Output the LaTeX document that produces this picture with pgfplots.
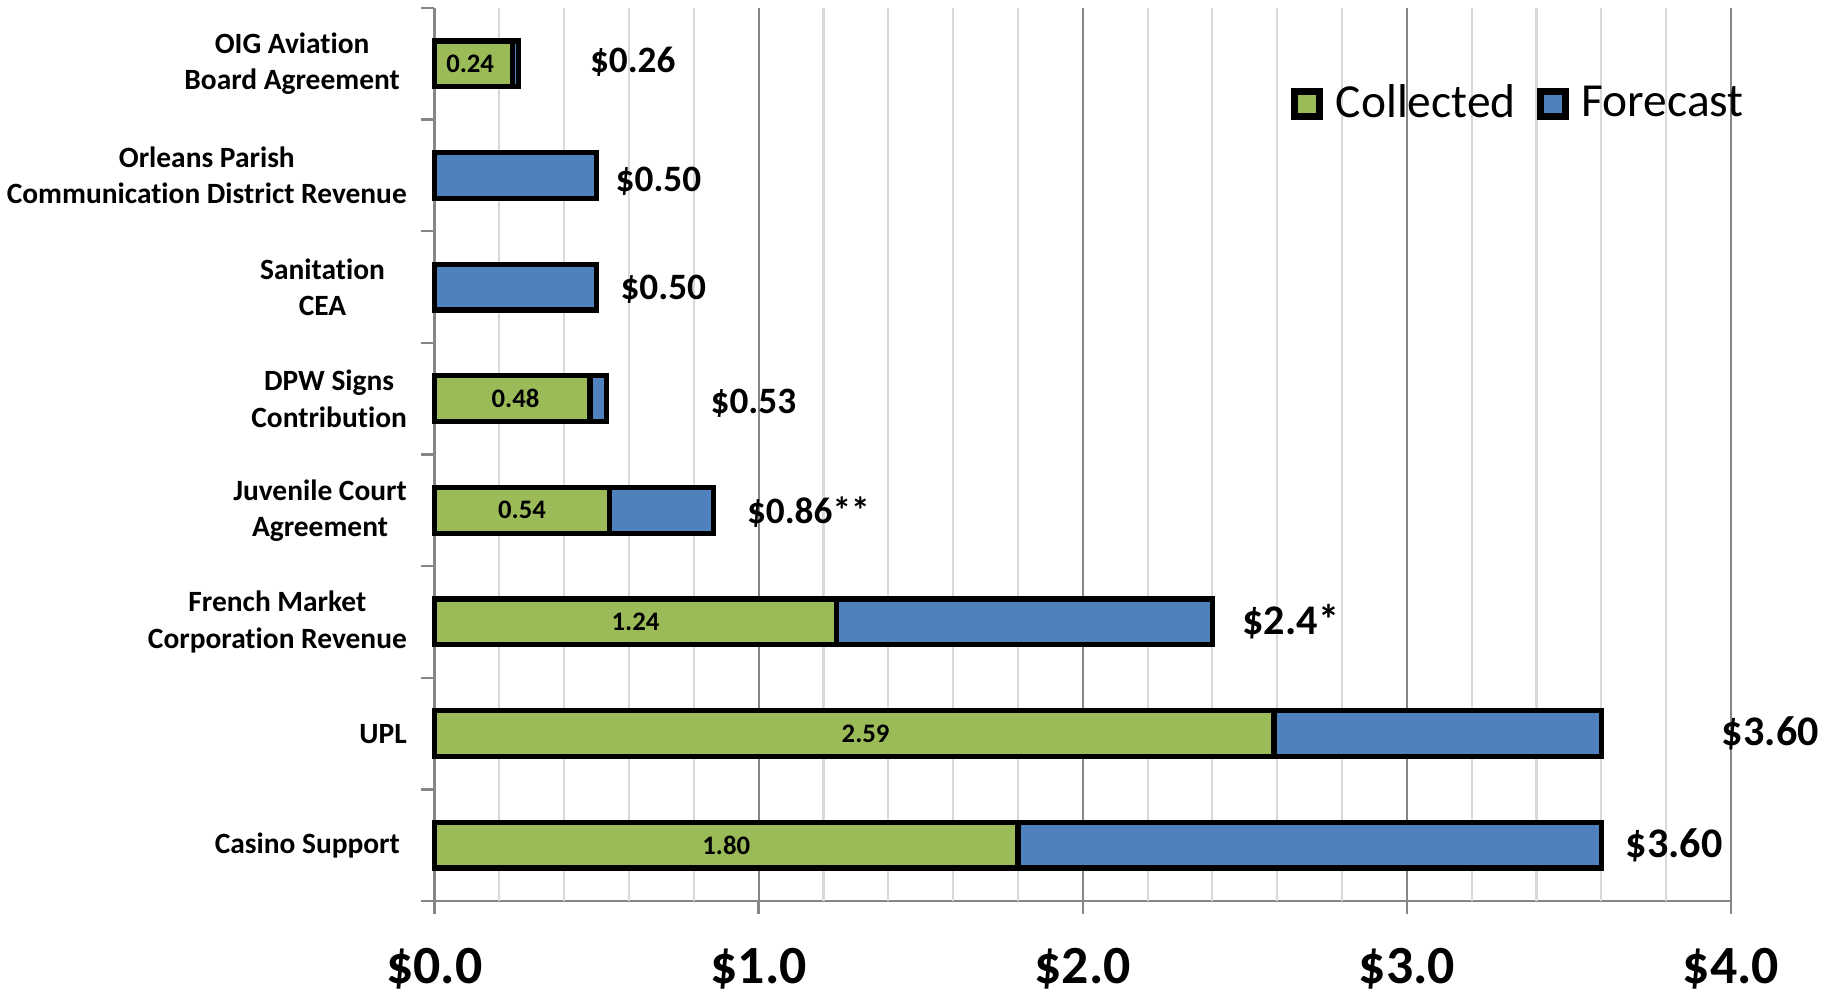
\documentclass[border=0pt]{standalone}
\usepackage{pgfplots}
\pgfplotsset{compat=1.18}
\usepackage{fontspec}
\setmainfont{Carlito}[Ligatures=NoCommon]
\definecolor{cgreen}{HTML}{9BBB59}
\definecolor{cblue}{HTML}{4F81BD}
\definecolor{majgrid}{HTML}{868686}
\definecolor{mingrid}{HTML}{D9D9D9}
\begin{document}
\begin{tikzpicture}
\path[use as bounding box] (-4.345,-0.92) rectangle (14.025,9.01);
\begin{axis}[
  at={(0,0)}, anchor=south west,
  scale only axis, width=12.965cm, height=8.93cm,
  xmin=0, xmax=4, ymin=-0.5, ymax=7.5,
  xbar stacked, bar width=0.41,
  clip=false,
  axis lines*=left,
  axis line style={majgrid, line width=0.7pt},
  xtick pos=bottom, ytick pos=left,
  tick align=outside,
  tick style={majgrid, line width=0.7pt},
  major tick length=0.13cm,
  xtick={0,1,2,3,4},
  xticklabels={\$0.0,\$1.0,\$2.0,\$3.0,\$4.0},
  xticklabel style={font=\fontsize{15.3}{18}\selectfont\bfseries, inner sep=0pt, anchor=north, yshift=-0.34cm},
  xmajorgrids, major grid style={majgrid, line width=0.6pt},
  extra x ticks={0.2,0.4,0.6,0.8,1.2,1.4,1.6,1.8,2.2,2.4,2.6,2.8,3.2,3.4,3.6,3.8},
  extra x tick labels={},
  extra x tick style={grid=major, major grid style={mingrid, line width=0.6pt}, tick style={draw=none}},
  ytick={-0.5,0.5,...,7.5},
  yticklabels={},
  extra y ticks={0,1,2,3,4,5,6,7},
  extra y tick labels={
    {Casino Support\kern0.07cm},
    {UPL},
    {French Market\\Corporation Revenue},
    {Juvenile Court\\Agreement},
    {DPW Signs\\Contribution},
    {Sanitation\kern0.22cm\\CEA\kern0.22cm},
    {Orleans Parish\\Communication District Revenue},
    {OIG Aviation\kern0.07cm\\Board Agreement\kern0.07cm}},
  extra y tick style={tick style={draw=none}},
  yticklabel style={font=\fontsize{8.37}{10.3}\selectfont\bfseries, align=center, inner sep=0pt, anchor=east, xshift=-0.14cm},
  legend style={at={(0.66,0.8925)}, anchor=west, draw=none, fill=none, inner sep=0pt,
    font=\fontsize{13.5}{15}\selectfont, legend columns=2,
    /tikz/every even column/.append style={column sep=0.14cm}},
  legend image code/.code={\draw[#1, line width=2pt] (0cm,-0.125cm) rectangle (0.25cm,0.125cm);},
]
\addplot[fill=cgreen, draw=black, line width=1.5pt] coordinates {
  (1.80,0) (2.59,1) (1.24,2) (0.54,3) (0.48,4) (0,5) (0,6) (0.24,7)};
\addlegendentry{\kern0.06cm Collected}
\addplot[fill=cblue, draw=black, line width=1.5pt] coordinates {
  (1.80,0) (1.01,1) (1.16,2) (0.32,3) (0.05,4) (0.50,5) (0.50,6) (0.02,7)};
\addlegendentry{\kern0.06cm Forecast}

\coordinate (i7) at (axis cs:0.11,7);
\coordinate (i4) at (axis cs:0.25,4);
\coordinate (i3) at (axis cs:0.27,3);
\coordinate (i2) at (axis cs:0.62,2);
\coordinate (i1) at (axis cs:1.33,1);
\coordinate (i0) at (axis cs:0.90,0);
\coordinate (t7) at (axis cs:0.4776,7.02);
\coordinate (t6) at (axis cs:0.557,5.947);
\coordinate (t5) at (axis cs:0.572,4.98);
\coordinate (t4) at (axis cs:0.850,3.957);
\coordinate (t3) at (axis cs:0.962,2.98);
\coordinate (t2) at (axis cs:2.491,2);
\coordinate (t1) at (axis cs:3.970,1);
\coordinate (t0) at (axis cs:3.673,0);
\end{axis}
\begin{scope}[every node/.style={font=\fontsize{7.6}{9}\selectfont\bfseries}]
\node at (i7) {0.24};
\node at (i4) {0.48};
\node at (i3) {0.54};
\node at (i2) {1.24};
\node at (i1) {2.59};
\node at (i0) {1.80};
\end{scope}
\begin{scope}[every node/.style={anchor=west, inner sep=0pt, font=\fontsize{10.6}{12}\selectfont\bfseries}]
\node at (t7) {\$0.26};
\node at (t6) {\$0.50};
\node at (t5) {\$0.50};
\node at (t4) {\$0.53};
\node at (t3) {\$0.86**};
\end{scope}
\begin{scope}[every node/.style={anchor=west, inner sep=0pt, font=\fontsize{12}{14}\selectfont\bfseries}]
\node at (t2) {\$2.4*};
\node at (t1) {\$3.60};
\node at (t0) {\$3.60};
\end{scope}
\end{tikzpicture}
\end{document}
